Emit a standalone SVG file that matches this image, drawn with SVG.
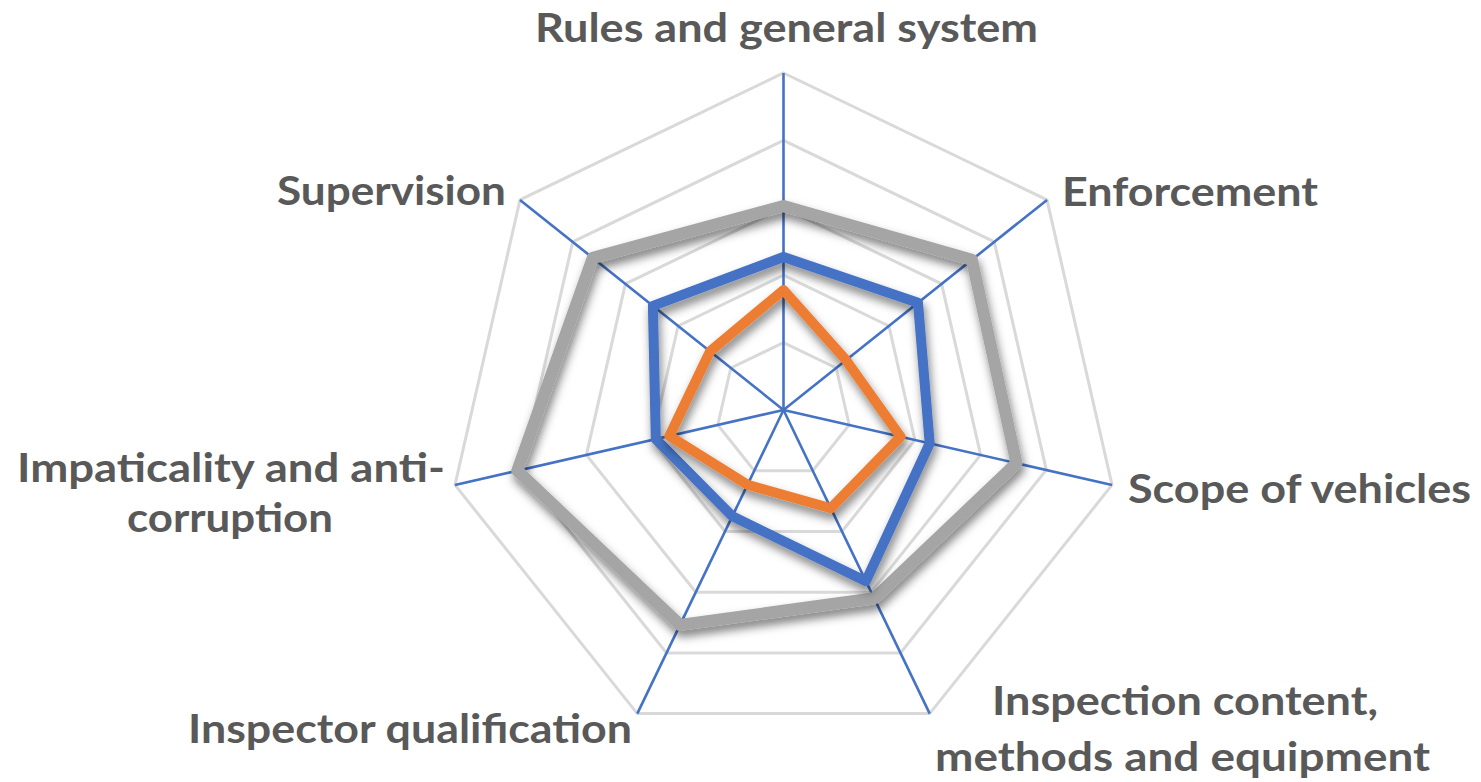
<svg xmlns="http://www.w3.org/2000/svg" width="1481" height="782" viewBox="0 0 1481 782">
  <style>
    .ring { fill: none; stroke: #d9d9d9; stroke-width: 3; }
    .axis { stroke: #4472c4; stroke-width: 2.6; }
    .series { fill: none; stroke-linejoin: round; filter: url(#sh); }
    .lbl { font-family: Lato, "Open Sans", "Liberation Sans", sans-serif; font-weight: 700; font-size: 41px; fill: #595959; }
  </style>
  <defs>
    <filter id="sh" x="-20%" y="-20%" width="140%" height="140%">
      <feDropShadow dx="2" dy="6" stdDeviation="5" flood-color="#000" flood-opacity="0.5"/>
    </filter>
  </defs>
  <rect width="1481" height="782" fill="#ffffff"/>

  <g id="grid">
    <polygon class="ring" points="783.5,342.6 836.2,368.0 849.2,425.0 812.7,470.7 754.3,470.7 717.8,425.0 730.8,368.0"/>
    <polygon class="ring" points="783.5,275.2 888.9,326.0 914.9,440.0 842.0,531.5 725.0,531.5 652.1,440.0 678.1,326.0"/>
    <polygon class="ring" points="783.5,207.8 941.6,283.9 980.6,455.0 871.2,592.2 695.8,592.2 586.4,455.0 625.4,283.9"/>
    <polygon class="ring" points="783.5,140.4 994.3,241.9 1046.3,470.0 900.5,652.9 666.5,652.9 520.7,470.0 572.7,241.9"/>
    <polygon class="ring" points="783.5,73.0 1047.0,199.9 1112.0,485.0 929.7,713.6 637.3,713.6 455.0,485.0 520.0,199.9"/>
  </g>

  <g id="connectors">
    <line class="axis" x1="783.5" y1="410" x2="783.5" y2="73.0"/>
    <line class="axis" x1="783.5" y1="410" x2="1047.0" y2="199.9"/>
    <line class="axis" x1="783.5" y1="410" x2="1112.0" y2="485.0"/>
    <line class="axis" x1="783.5" y1="410" x2="929.7" y2="713.6"/>
    <line class="axis" x1="783.5" y1="410" x2="637.3" y2="713.6"/>
    <line class="axis" x1="783.5" y1="410" x2="455.0" y2="485.0"/>
    <line class="axis" x1="783.5" y1="410" x2="520.0" y2="199.9"/>
  </g>

  <g id="series">
    <polygon id="series-gray" class="series" stroke="#a5a5a5" stroke-width="12" points="783.5,206.0 971.9,259.7 1016.5,463.2 874.2,598.3 680.0,624.9 517.3,470.7 592.7,257.9"/>
    <polygon id="series-blue" class="series" stroke="#4472c4" stroke-width="10" points="783.5,257.0 918.0,302.8 929.7,443.4 865.9,581.2 732.3,516.3 655.8,439.1 652.9,305.9"/>
    <polygon id="series-orange" class="series" stroke="#ed7d31" stroke-width="10" points="783.5,290.0 846.0,360.1 900.5,436.7 830.8,508.2 747.5,484.8 669.4,436.0 710.0,351.4"/>
  </g>

  <g id="label-rules">
    <text class="lbl" x="535" y="41.7" textLength="503" lengthAdjust="spacingAndGlyphs">Rules and general system</text>
  </g>
  <g id="label-enforcement">
    <text class="lbl" x="1062" y="206" textLength="256" lengthAdjust="spacingAndGlyphs">Enforcement</text>
  </g>
  <g id="label-scope">
    <text class="lbl" x="1128" y="503.3" textLength="343" lengthAdjust="spacingAndGlyphs">Scope of vehicles</text>
  </g>
  <g id="label-inspection">
    <text class="lbl" x="992" y="715" textLength="386" lengthAdjust="spacingAndGlyphs">Inspection content,</text>
    <text class="lbl" x="935" y="770.5" textLength="495" lengthAdjust="spacingAndGlyphs">methods and equipment</text>
  </g>
  <g id="label-inspector">
    <text class="lbl" x="188" y="743.3" textLength="444" lengthAdjust="spacingAndGlyphs">Inspector qualification</text>
  </g>
  <g id="label-impartiality">
    <text class="lbl" x="17" y="481.7" textLength="428" lengthAdjust="spacingAndGlyphs">Impaticality and anti-</text>
    <text class="lbl" x="127" y="531.7" textLength="206" lengthAdjust="spacingAndGlyphs">corruption</text>
  </g>
  <g id="label-supervision">
    <text class="lbl" x="277" y="205" textLength="229" lengthAdjust="spacingAndGlyphs">Supervision</text>
  </g>
</svg>
